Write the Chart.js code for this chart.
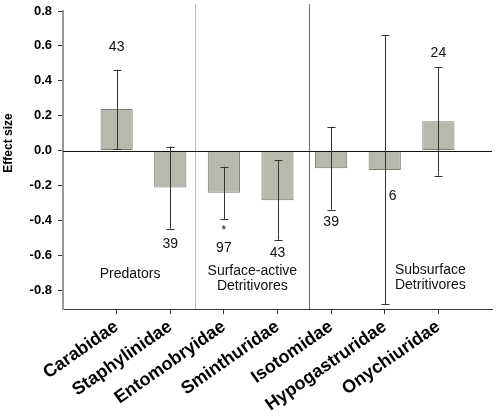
<!DOCTYPE html>
<html lang="en">
<head>
<meta charset="UTF-8">
<title>Effect size by family</title>
<script src="https://cdn.jsdelivr.net/npm/chart.js"></script>
<style>
    body {
        margin: 0;
        background: #fff;
    }
    #wrap {
        width: 498px;
        height: 417px;
    }
</style>
</head>
<body>
<div id="wrap"><canvas id="effectChart" width="498" height="417"></canvas></div>
<script>
    // Data
    const families = ['Carabidae', 'Staphylinidae', 'Entomobryidae', 'Sminthuridae', 'Isotomidae', 'Hypogastruridae', 'Onychiuridae'];
    const effectSize = [0.239, -0.212, -0.242, -0.284, -0.101, -0.111, 0.168];
    const ciLow = [0.010, -0.448, -0.393, -0.511, -0.338, -0.882, -0.143];
    const ciHigh = [0.464, 0.023, -0.092, -0.055, 0.137, 0.663, 0.479];
    const sampleN = ['43', '39', '97', '43', '39', '6', '24'];
    const significant = [false, false, true, false, false, false, false];
    const yTicks = [-0.8, -0.6, -0.4, -0.2, 0.0, 0.2, 0.4, 0.6, 0.8];
    const groupNames = [['Predators'], ['Surface-active', 'Detritivores'], ['Subsurface', 'Detritivores']];

    // annotation placement (in axis units)
    const nLabelY = [0.59, -0.534, -0.562, -0.585, -0.413, -0.263, 0.561];
    const starY = -0.447;
    const groupLabelX = [1.25, 3.53, 6.85];
    const groupLabelY = [-0.706, -0.693, -0.687];
    const dividerX = [2.46, 4.58];

    const FONT = "'Liberation Sans', Arial, sans-serif";

    const overlay = {
        id: 'overlay',
        afterDatasetsDraw(chart) {
            const ctx = chart.ctx;
            const xs = chart.scales.x, ys = chart.scales.y;
            const area = chart.chartArea;
            ctx.save();

            // group dividers
            const divColors = ['#bdbdbd', '#6e6e6e'];
            dividerX.forEach((v, i) => {
                const px = Math.round(xs.getPixelForValue(v)) + 0.5;
                ctx.strokeStyle = divColors[i];
                ctx.lineWidth = 1;
                ctx.beginPath();
                ctx.moveTo(px, 4);
                ctx.lineTo(px, area.bottom);
                ctx.stroke();
            });

            // zero line
            const y0 = Math.round(ys.getPixelForValue(0)) + 0.5;
            ctx.strokeStyle = '#111';
            ctx.beginPath();
            ctx.moveTo(area.left, y0);
            ctx.lineTo(area.right, y0);
            ctx.stroke();

            // error bars
            ctx.strokeStyle = '#333';
            families.forEach((f, i) => {
                const px = Math.round(xs.getPixelForValue(i + 1)) + 0.5;
                const top = ys.getPixelForValue(ciHigh[i]);
                const bot = ys.getPixelForValue(ciLow[i]);
                ctx.beginPath();
                ctx.moveTo(px, top);
                ctx.lineTo(px, bot);
                ctx.moveTo(px - 4, Math.round(top) + 0.5);
                ctx.lineTo(px + 4, Math.round(top) + 0.5);
                ctx.moveTo(px - 4, Math.round(bot) + 0.5);
                ctx.lineTo(px + 4, Math.round(bot) + 0.5);
                ctx.stroke();
            });

            // sample sizes
            ctx.fillStyle = '#111';
            ctx.font = '14px ' + FONT;
            ctx.textAlign = 'center';
            ctx.textBaseline = 'middle';
            families.forEach((f, i) => {
                let px = xs.getPixelForValue(i + 1);
                if (sampleN[i] === '6') px += 8;
                ctx.fillText(sampleN[i], px, ys.getPixelForValue(nLabelY[i]));
                if (significant[i]) {
                    ctx.font = '12px ' + FONT;
                    ctx.fillText('*', px, ys.getPixelForValue(starY) + 2);
                    ctx.font = '14px ' + FONT;
                }
            });

            // group labels
            groupNames.forEach((lines, g) => {
                const px = xs.getPixelForValue(groupLabelX[g]);
                const py = ys.getPixelForValue(groupLabelY[g]);
                lines.forEach((t, k) => ctx.fillText(t, px, py + k * 15));
            });

            // y title
            ctx.font = 'bold 12px ' + FONT;
            ctx.fillStyle = '#000';
            ctx.translate(9, 143);
            ctx.rotate(-Math.PI / 2);
            ctx.fillText('Effect size', 0, 0);
            ctx.restore();
        }
    };

    const effectChart = new Chart(document.getElementById('effectChart'), {
        type: 'bar',
        data: {
            datasets: [{
                data: families.map((f, i) => ({ x: i + 1, y: effectSize[i] })),
                backgroundColor: '#b9b9ab',
                borderColor: '#7b7b72',
                borderWidth: 1,
                borderSkipped: false,
                barPercentage: 0.6,
                categoryPercentage: 1.0,
            }]
        },
        options: {
            responsive: false,
            animation: false,
            devicePixelRatio: 1,
            layout: { padding: { top: 11, right: 6, left: 0, bottom: 0 } },
            plugins: {
                legend: { display: false },
                tooltip: { enabled: false },
            },
            scales: {
                x: {
                    type: 'linear',
                    offset: false,
                    min: 0,
                    max: 8,
                    afterBuildTicks: s => { s.ticks = families.map((f, i) => ({ value: i + 1 })); },
                    afterFit: s => { s.height = 108; s.paddingRight = 0; },
                    ticks: {
                        autoSkip: false,
                        minRotation: 35,
                        maxRotation: 35,
                        padding: 2,
                        color: '#000',
                        font: { family: FONT, size: 18, weight: 'bold' },
                        callback: v => families[Math.round(v) - 1],
                    },
                    grid: { drawOnChartArea: false, offset: false, tickLength: 5, color: '#333' },
                    border: { color: '#333', width: 1 },
                },
                y: {
                    min: -0.908,
                    max: 0.8,
                    afterBuildTicks: s => { s.ticks = yTicks.map(v => ({ value: v })); },
                    afterFit: s => { s.width = 63; s.paddingTop = 0; s.paddingBottom = 0; },
                    ticks: {
                        padding: 6,
                        color: '#000',
                        font: { family: FONT, size: 13, weight: 'bold' },
                        callback: v => v.toFixed(1),
                    },
                    grid: { drawOnChartArea: false, tickLength: 5, color: '#333' },
                    border: { color: '#999', width: 2 },
                }
            }
        },
        plugins: [overlay]
    });
</script>
</body>
</html>
